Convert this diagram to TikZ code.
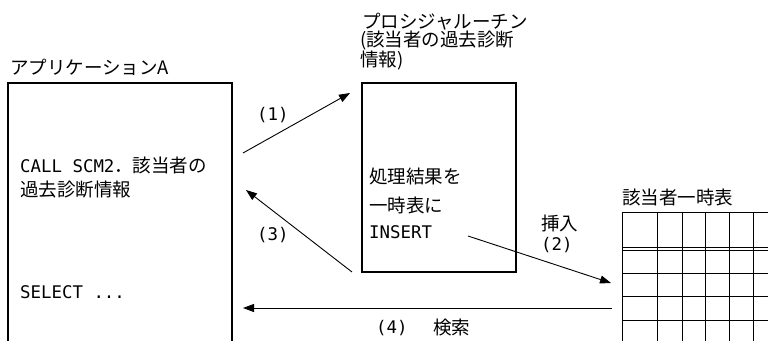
\documentclass[tikz,border=0pt]{standalone}
\usepackage{fontspec}
\setmainfont{Noto Sans CJK JP}
\newfontfamily\latmono{DejaVu Sans Mono}
\usetikzlibrary{arrows.meta}
\newcommand{\lat}[1]{{\latmono\fontsize{17.4}{20}\selectfont #1}}
\tikzset{
  txt/.style={anchor=west, inner sep=0pt, font=\fontsize{18.5}{22}\selectfont},
  boxline/.style={line width=1.3pt},
  gridline/.style={line width=0.9pt},
  arr/.style={line width=0.9pt, -{Triangle[length=11pt,width=8pt]}}
}
\begin{document}
\begin{tikzpicture}[x=1pt,y=-1pt]
\useasboundingbox (0,0) rectangle (768,340);
% labels
\node[txt] (appl) at (10,67) {アプリケーションA};
\node[txt] (p1) at (362,22) {プロシジャルーチン};
\node[txt] (p2) at (360,41) {(該当者の過去診断};
\node[txt] (p3) at (360,61) {情報)};
% boxes
\draw[boxline] (8,345) -- (8,83) -- (232,83) -- (232,345);
\draw[boxline] (362,83) rectangle (516,272);
\node[txt] (a1) at (20,165) {\lat{CALL SCM2}．該当者の};
\node[txt] (a2) at (20,190) {過去診断情報};
\node[txt] (a3) at (20,292) {\lat{SELECT ...}};
\node[txt] (b1) at (369,176) {処理結果を};
\node[txt] (b2) at (369,205) {一時表に};
\node[txt] (b3) at (369,232) {\lat{INSERT}};
% table
\node[txt] (tl) at (622,197) {該当者一時表};
\foreach \x in {622,657,682,705,729,753,777}
  \draw[gridline] (\x,212) -- (\x,345);
\foreach \y in {212,247,250,273,296,320,344}
  \draw[gridline] (622,\y) -- (780,\y);
% arrow endpoints
\coordinate (s1) at (243,153);
\coordinate (e1) at (350,93);
\coordinate (s3) at (352,272);
\coordinate (e3) at (246,190);
\coordinate (s2) at (468,236);
\coordinate (e2) at (611,283);
\coordinate (s4) at (612,308);
\coordinate (e4) at (243,308);
\draw[arr] (s1) -- (e1);
\draw[arr] (s3) -- (e3);
\draw[arr] (s2) -- (e2);
\draw[arr] (s4) -- (e4);
% arrow labels
\node[txt] (l1) at (257,115) {\lat{(1)}};
\node[txt] (l3) at (257,235) {\lat{(3)}};
\node[txt] (l2a) at (541,223) {挿入};
\node[txt] (l2b) at (541,245) {\lat{(2)}};
\node[txt] (l4a) at (376,328) {\lat{(4)}};
\node[txt] (l4b) at (433,328) {検索};
\end{tikzpicture}
\end{document}
